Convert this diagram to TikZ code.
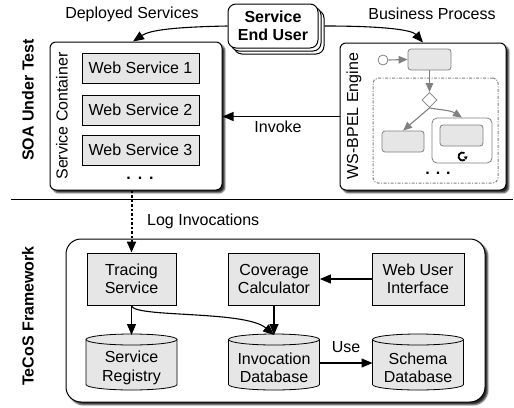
\documentclass[tikz,border=0pt]{standalone}
\usepackage{fontspec}
\setmainfont{Liberation Sans}
\usetikzlibrary{shapes.geometric,arrows.meta,shadows,shadows.blur,calc}

\definecolor{boxgray}{HTML}{E6E6E6}
\definecolor{flowgray}{HTML}{808080}

% Database drawn as an upright cylinder: #1 name, #2 centre x, #3 label
\newcommand\dbstore[3]{%
  \filldraw[line width=0.8pt, fill=boxgray]
    (#2-45.5,339.5) -- (#2-45.5,384.5)
    arc[start angle=180, end angle=360, x radius=45.5pt, y radius=5.5pt]
    -- (#2+45.5,339.5)
    arc[start angle=0, end angle=180, x radius=45.5pt, y radius=5.5pt] -- cycle;
  \draw[line width=0.8pt] (#2-45.5,339.5)
    arc[start angle=180, end angle=360, x radius=45.5pt, y radius=5.5pt];
  \coordinate (#1top) at (#2,335);
  \coordinate (#1e) at (#2+45.5,363);
  \coordinate (#1w) at (#2-45.5,363);
  \node[align=center] (#1) at (#2,368) {#3};
}

\begin{document}
\begin{tikzpicture}[x=1pt, y=-1pt,
  every node/.style={font=\fontsize{16}{18.5}\selectfont, inner sep=0pt},
  boldtext/.style={font=\fontsize{16}{18}\selectfont\bfseries},
  frame/.style={draw, line width=1pt, fill=white, rounded corners=6pt,
    blur shadow={shadow xshift=2.8pt, shadow yshift=-2.8pt, shadow blur steps=4,
      shadow blur radius=1.6pt, shadow opacity=85}},
  comp/.style={draw, line width=0.8pt, fill=boxgray, align=center},
  arr/.style={line width=1.1pt, -{Triangle[length=11pt, width=9pt]}},
  task/.style={draw=flowgray, fill=boxgray, rounded corners=3pt, line width=0.8pt},
  flow/.style={draw=flowgray, line width=1.1pt, -{Triangle[length=9pt, width=7.5pt]}, color=flowgray},
  dots/.style={font=\fontsize{16}{18}\selectfont\bfseries},
]
\useasboundingbox (0,0) rectangle (514,407);

% ---- containers
\node[frame, minimum width=172pt, minimum height=148pt] (sc) at (136,116) {};
\node[frame, minimum width=166pt, minimum height=147pt] (bpel) at (423,116.5) {};
\node[frame, rounded corners=15pt, minimum width=419pt, minimum height=163pt] (tecos) at (275.5,320.5) {};

% ---- end user
\node[draw, line width=1pt, fill=white, rounded corners=8pt, minimum width=90pt,
  minimum height=44pt, align=center, boldtext,
  double copy shadow={shadow xshift=3pt, shadow yshift=-3pt, fill=white, draw=black, line width=1pt}]
  (eu) at (273,26) {Service\\End User};

% ---- side titles and container labels
\node[rotate=90, boldtext] (soa) at (28,100) {SOA Under Test};
\node[rotate=90, boldtext] (tecoslab) at (28,316) {TeCoS Framework};
\node[rotate=90] (sclab) at (62,116) {Service Container};
\node[rotate=90] (bplab) at (354,116) {WS-BPEL Engine};

% ---- separator
\draw[line width=1pt] (11,199.5) -- (513,199.5);

% ---- web services
\node[comp, minimum width=117pt, minimum height=30pt] (ws1) at (140.5,68) {Web Service 1};
\node[comp, minimum width=117pt, minimum height=30pt] (ws2) at (140.5,110) {Web Service 2};
\node[comp, minimum width=117pt, minimum height=30pt] (ws3) at (140.5,150) {Web Service 3};
\node[dots] (wsdots) at (140,178) {.\hspace{7pt}.\hspace{7pt}.};

% ---- process in the engine
\node[draw=flowgray, line width=1pt, rounded corners=5pt,
  dash pattern=on 3pt off 1.5pt on 1pt off 1.5pt,
  minimum width=125pt, minimum height=105pt] (scopebox) at (435.5,130.5) {};
\node[circle, draw=flowgray, fill=white, minimum size=10pt, line width=0.8pt] (st) at (383,60) {};
\node[task, minimum width=43pt, minimum height=21pt] (t1) at (429.5,59.5) {};
\node[diamond, draw=flowgray, fill=white, minimum size=15pt, line width=0.8pt] (dm) at (429.5,100) {};
\node[task, minimum width=42pt, minimum height=21pt] (lt) at (403,141.5) {};
\node[draw=flowgray, fill=white, rounded corners=5pt, minimum width=60pt,
  minimum height=45pt, line width=0.8pt] (lb) at (462,140.5) {};
\node[task, minimum width=43pt, minimum height=21pt] (it) at (461.5,135.5) {};
% loop marker: open circular arrow
\draw[line width=1.8pt] (464.5,153.0) arc[start angle=60, end angle=305, radius=4pt];
\fill (466.0,159.8) -- (463.6,156.6) -- (467.6,156.4) -- cycle;
\node[dots] (bpdots) at (438,173) {.\hspace{6pt}.\hspace{6pt}.};

\draw[flow] (st.east) -- (t1.west);
\draw[flow] (t1.south) -- (dm.north);
\draw[flow] (dm.south) -- (lt.north);
\draw[flow] (dm.south) .. controls (440,110) and (450,110) .. (lb.north);

% ---- TeCoS components
\node[comp, minimum width=89pt, minimum height=52pt] (tr) at (131.5,279) {Tracing\\Service};
\node[comp, minimum width=91pt, minimum height=52pt] (cov) at (274,279) {Coverage\\Calculator};
\node[comp, minimum width=92pt, minimum height=52pt] (wui) at (418,279) {Web User\\Interface};
\dbstore{reg}{131.5}{Service\\Registry}
\dbstore{inv}{274}{Invocation\\Database}
\dbstore{sch}{418}{Schema\\Database}

% ---- labels
\node (dep) at (132,14) {Deployed Services};
\node (bus) at (432,14) {Business Process};
\node (invokelab) at (278,127) {Invoke};
\node[anchor=west] (loglab) at (147,221) {Log Invocations};
\node (uselab) at (346,347) {Use};

% ---- connectors
\draw[arr] (eu.west) .. controls (175,27) and (150,30) .. ($(sc.north)+(-3,0)$);
\draw[arr] ([xshift=6pt]eu.east) .. controls (385,26) and (412,30) .. (bpel.north);
\draw[arr] (bpel.west) -- (bpel.west -| sc.east);
\draw[line width=2pt, dash pattern=on 2.5pt off 2pt, -{Triangle[length=11pt, width=9pt]}]
  (sc.south -| tr.north) -- (tr.north);
\draw[arr] (wui.west) -- (cov.east);
\draw[arr] (cov.south) -- (invtop);
\draw[arr] (tr.south) .. controls (132,318) and (245,310) .. (invtop);
\draw[arr] (tr.south) -- (regtop);
\draw[arr] (inve) -- (schw);
\end{tikzpicture}
\end{document}
